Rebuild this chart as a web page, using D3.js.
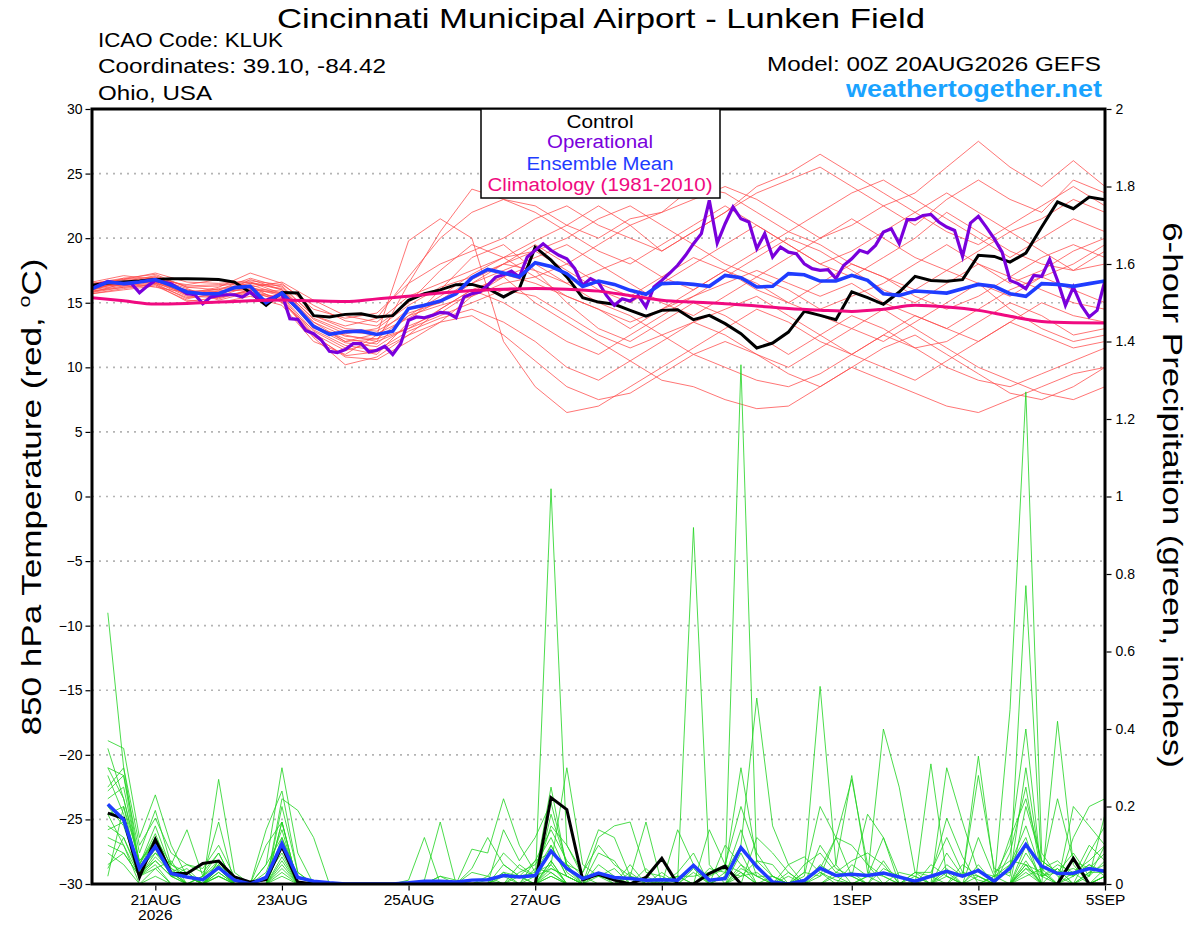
<!DOCTYPE html>
<html><head><meta charset="utf-8">
<script src="https://cdn.jsdelivr.net/npm/d3@7"></script>
<style>
body{margin:0;background:#fff}
svg text{font-family:"Liberation Sans",Arial,Helvetica,sans-serif}
</style>
</head><body>
<svg id="c" width="1200" height="927"></svg>
<script>
// ---------------- DATA ----------------
const titleText = "Cincinnati Municipal Airport - Lunken Field";
const infoLeft = ["ICAO Code: KLUK","Coordinates: 39.10, -84.42","Ohio, USA"];
const modelText = "Model: 00Z 20AUG2026 GEFS";
const siteText = "weathertogether.net";
const legendLabels = ["Control","Operational","Ensemble Mean","Climatology (1981-2010)"];

const tempTicks = [30,25,20,15,10,5,0,-5,-10,-15,-20,-25,-30];
const precipTicks = [0,0.2,0.4,0.6,0.8,1,1.2,1.4,1.6,1.8,2];
const precipTickLabels = ["0","0.2","0.4","0.6","0.8","1","1.2","1.4","1.6","1.8","2"];
const dateTickDays = [1,3,5,7,9,12,14,16];
const dateTickLabels = ["21AUG","23AUG","25AUG","27AUG","29AUG","1SEP","3SEP","5SEP"];

// control 850 hPa temperature, 6-hourly from 00Z 20 Aug
const controlTemp = [16.35,16.53,16.6,16.68,16.8,16.86,16.86,16.83,16.8,16.6,15.8,14.8,15.8,15.75,14.0,13.9,
 14.1,14.15,13.9,14.0,15.19,15.7,16.0,16.4,16.42,16.1,15.45,16.1,19.3,18.3,17.0,15.4,
 15.05,14.88,14.41,13.97,14.41,14.46,13.69,14.02,13.38,12.61,11.5,11.88,12.73,14.33,14.02,13.69,
 15.85,15.39,14.88,15.83,17.04,16.73,16.66,16.79,18.67,18.59,18.15,18.85,20.86,22.8,22.28,23.18,22.98];
// ensemble mean temperature, 6-hourly
const meanTemp = [16.09,16.6,16.48,16.6,16.8,16.35,15.83,15.7,15.7,16.17,16.27,15.0,15.75,14.54,13.17,12.55,
 12.75,12.8,12.55,12.8,14.55,14.8,15.13,15.7,16.94,17.58,17.3,17.0,18.1,17.8,17.25,16.26,
 16.68,16.42,15.96,15.65,16.48,16.53,16.42,16.27,17.12,16.94,16.22,16.27,17.25,17.17,16.68,16.68,
 17.12,16.73,15.7,15.57,15.91,15.83,15.75,16.09,16.42,16.27,15.7,15.5,16.48,16.42,16.27,16.48,16.68];
// operational temperature, 3-hourly
const operTemp = [16.09,16.4,16.66,16.55,16.47,16.47,15.78,16.29,16.73,16.6,16.47,16.09,15.7,15.62,14.93,15.44,
 15.57,15.62,15.62,15.44,15.83,15.31,15.19,15.44,15.7,13.77,13.72,12.86,12.6,12.09,11.24,11.14,
 11.38,11.83,11.83,11.19,11.32,11.63,11.0,11.83,13.64,13.9,13.84,14.02,14.26,14.2,13.84,15.44,
 15.7,15.83,16.35,16.99,17.17,17.45,16.99,18.54,19.06,19.57,19.06,18.67,18.41,17.64,16.35,16.87,
 16.55,15.57,14.8,15.31,15.13,15.57,14.67,16.22,16.73,17.3,17.9,18.67,19.57,20.35,22.93,19.62,
 21.12,22.41,21.5,21.25,19.19,20.35,18.54,19.31,18.92,18.8,18.02,17.64,17.51,17.56,16.87,17.9,
 18.4,19.06,18.85,19.44,20.47,20.73,19.57,21.43,21.43,21.76,21.84,21.25,20.86,20.6,18.59,21.17,
 21.69,20.86,19.96,18.92,16.73,16.48,16.09,17.12,17.04,18.36,16.73,14.8,16.22,14.8,13.9,14.41,16.73];
// climatology, 12-hourly
const climTemp = [15.39,15.15,14.9,14.95,15.05,15.15,15.22,15.15,15.1,15.3,15.5,15.75,15.95,16.05,16.1,16.05,
 15.9,15.55,15.2,15.05,14.93,14.75,14.55,14.42,14.33,14.5,14.8,14.67,14.41,13.95,13.55,13.45,13.43];
// ensemble members temperature, 12-hourly
const memberTemps = [
 [16.2,16.6,16.9,15.9,15.5,16.8,16.0,13.5,12.0,12.2,14.0,15.5,17.2,18.5,19.8,21.0,22.5,21.0,19.0,20.5,22.0,23.5,24.5,25.5,24.0,22.5,21.0,23.0,24.5,23.0,22.0,24.5,23.5],
 [16.0,16.4,16.7,15.6,15.9,16.2,15.5,12.8,11.5,11.0,13.5,16.0,18.5,19.5,17.5,15.0,13.0,12.0,13.5,15.0,14.0,12.5,11.0,12.5,14.0,13.0,11.5,12.0,13.5,15.0,14.0,12.5,13.0],
 [16.5,16.9,17.2,16.2,16.0,16.5,16.3,14.0,13.2,13.8,17.0,20.0,22.0,23.0,22.0,20.5,19.0,18.0,19.5,21.0,22.5,21.0,19.5,18.0,17.0,18.5,20.0,22.0,20.5,19.0,18.0,17.5,19.0],
 [15.8,16.2,16.4,15.4,15.6,15.8,15.2,12.5,10.8,10.6,12.0,13.5,15.5,17.0,18.0,16.5,15.0,14.0,12.5,11.0,10.0,9.0,8.5,9.5,11.0,12.5,11.5,10.0,9.0,8.5,9.5,10.5,11.5],
 [16.3,16.7,16.5,16.0,15.3,16.0,15.8,13.0,12.5,12.0,13.0,14.5,16.0,15.0,13.5,12.0,11.0,12.5,14.0,15.5,17.0,18.5,20.0,19.0,17.5,16.0,15.0,16.5,18.0,17.0,16.0,15.0,14.5],
 [16.1,16.5,17.0,15.7,16.2,17.3,16.5,14.5,13.8,14.2,16.5,20.5,23.8,23.0,22.5,21.0,20.0,21.5,22.0,23.0,24.0,23.0,21.5,20.0,21.0,22.5,23.5,25.5,27.5,25.5,24.0,26.0,24.0],
 [15.9,16.3,16.6,15.5,15.4,16.0,15.3,12.3,10.2,10.8,12.5,13.5,14.0,12.5,10.5,8.5,7.5,8.0,9.5,11.0,12.0,11.0,9.5,8.5,10.0,11.5,12.5,11.0,9.5,8.0,7.5,8.5,10.0],
 [16.4,16.8,17.0,16.3,16.4,16.6,16.0,13.8,12.8,12.5,14.5,15.0,16.5,18.0,19.5,18.0,16.5,15.5,17.0,18.5,17.5,16.0,15.0,16.5,18.0,17.0,15.5,14.5,15.5,17.0,18.5,19.5,18.5],
 [15.7,16.0,16.3,15.2,15.0,15.5,14.8,12.0,11.0,12.5,19.8,21.5,20.0,12.0,8.5,6.5,7.0,8.5,10.0,11.5,13.0,14.5,13.5,12.0,11.0,12.5,14.0,13.0,12.0,13.5,15.0,14.0,13.5],
 [16.6,17.1,16.8,16.4,16.8,16.2,16.6,15.2,14.0,13.5,15.5,16.5,17.5,18.5,19.0,20.0,21.5,22.5,21.0,19.5,18.0,17.0,18.5,20.0,21.5,20.0,18.5,17.5,16.5,15.5,17.0,18.0,19.5],
 [16.0,16.6,16.2,15.8,15.7,16.4,15.6,13.2,12.2,11.8,14.0,14.8,15.5,16.5,17.0,15.5,14.5,13.0,14.5,16.0,17.5,16.5,15.0,14.0,13.0,12.0,13.5,15.0,16.5,14.5,13.0,12.0,12.5],
 [15.8,16.5,16.9,16.1,15.2,15.8,15.4,12.6,11.3,12.0,16.5,18.0,19.0,20.0,21.5,22.5,21.0,20.0,19.0,20.5,22.0,24.0,25.0,26.5,25.0,23.5,22.0,20.5,19.5,21.0,22.5,24.0,22.5],
 [16.3,16.4,16.7,15.9,16.0,16.9,16.2,14.0,13.0,12.8,14.2,15.0,16.5,17.5,18.5,19.5,18.0,16.5,15.0,14.0,15.5,17.0,16.0,14.5,15.5,16.5,18.0,19.5,18.0,16.5,17.5,19.0,20.0],
 [15.9,16.2,16.5,15.3,15.8,16.1,15.9,13.5,12.4,12.2,13.0,14.0,15.0,16.0,15.5,14.0,12.5,11.5,12.5,13.5,14.5,15.5,14.0,12.5,11.0,10.0,9.0,10.5,12.0,13.5,12.5,11.5,12.0],
 [16.5,16.8,17.3,16.6,16.5,16.7,16.4,14.8,13.6,13.2,15.0,17.5,19.5,18.5,17.0,18.0,19.5,21.0,22.0,24.0,23.5,22.0,20.5,22.0,23.5,24.5,23.0,21.5,20.0,18.5,20.0,21.5,20.5],
 [16.2,16.9,16.6,16.0,15.5,16.3,15.0,12.9,11.7,11.3,12.8,13.8,14.5,13.5,12.0,10.0,9.0,10.5,12.0,13.5,12.5,11.0,10.0,11.5,13.0,14.5,13.0,11.5,10.0,9.0,8.0,7.5,8.5],
 [16.4,16.3,16.8,15.6,16.1,16.5,16.1,13.7,12.6,13.0,14.8,16.2,17.0,18.0,17.5,16.5,17.5,18.5,17.0,16.0,17.5,19.0,20.5,19.5,18.0,17.0,16.0,17.5,19.0,20.5,19.0,17.5,18.0],
 [15.7,16.1,16.4,15.1,15.4,15.9,15.1,12.4,10.9,11.2,12.5,14.5,16.0,17.0,15.0,13.5,12.0,10.5,9.0,8.5,7.5,6.8,7.0,8.5,10.0,9.0,8.0,7.0,6.5,7.5,8.5,9.5,10.0],
 [16.1,16.6,17.1,16.2,16.3,16.6,15.7,13.3,12.0,12.6,13.8,15.2,16.8,18.0,19.0,17.5,16.0,15.0,16.5,18.0,19.5,21.0,19.5,18.0,19.0,20.5,22.0,23.5,22.0,20.5,21.5,23.0,22.0],
 [16.0,16.7,16.5,15.8,15.9,16.0,15.7,13.1,11.9,11.6,13.2,14.2,15.8,17.2,16.5,15.5,14.5,13.5,14.5,15.5,16.5,17.5,16.5,15.5,16.5,15.0,14.0,13.0,14.5,16.0,17.0,16.0,15.0]
];
// 6-hour precipitation (inches), 6-hourly from 06Z 20 Aug
const controlPrecip = [.183,.169,.018,.115,.028,.027,.053,.059, .018,.005,.011,.097,.005,0,0,0, 0,0,0,0,0,0,0,0,
 0,0,0,0,.223,.192,.011,.025, .01,0,.017,.066,0,0,.027,.046, 0,0,0,0,0,0,0,0, 0,0,0,0,0,0,0,0, 0,0,0,0,0,.066,0,0];
const meanPrecip = [.206,.166,.04,.097,.027,.018,.011,.042, .01,0,.017,.104,.017,.007,.003,0, 0,0,0,.003,.007,.007,.005,.01,
 .011,.022,.018,.022,.085,.04,.014,.028, .017,.014,.01,.011,.01,.048,.01,.014, .094,.045,.005,0,.009,.041,.022,.025,
 .022,.028,.018,.007,.02,.033,.02,.035, .007,.041,.102,.046,.027,.028,.04,.033];
const memberPrecip = [
 [.70,.30,.05,.12,.03,0,.02,.06, 0,0,.05,.30,.08,0,0,0, 0,0,0,0,0,.02,0,0, 0,.03,.02,0,1.02,.10,.02,0, 0,0,0,.01,.02,0,0,0, 0,0,.02,0,.03,.51,.05,0, 0,0,0,.02,0,0,.03,.01, 0,.05,.12,0,0,.02,.05,.03],
 [.37,.35,.12,.23,.10,.02,0,.27, .03,0,0,.22,.19,.12,0,0, 0,0,0,0,0,0,0,.09, .08,.22,.10,.03,.05,.30,.05,.02, .01,0,.02,0,.01,.92,.05,0, .02,.03,0,.02,0,.03,.01,0, .02,.40,.25,.03,0,.05,.02,.33, .03,.06,.05,0,0,.12,.20,.22],
 [.30,.28,.08,.19,.05,.14,.02,.16, 0,0,.14,.24,.03,0,0,0, 0,0,0,0,.01,.16,0,0, 0,.14,.06,.12,.21,.05,.03,.14, .12,.02,0,0,.14,.05,0,.02, 1.34,.05,0,0,.02,.20,.12,.02, .18,.12,0,0,.31,.02,0,.02, 0,.45,1.27,.08,.02,0,.03,.05],
 [.25,.30,.10,.17,.08,.05,.04,.10, .02,0,.10,.16,0,0,0,0, 0,0,0,.01,.12,0,0,.04, .12,.05,.02,.06,.08,.05,0,.12, .15,.16,.03,.02,0,0,.04,.03, .10,.48,.15,.05,0,.02,.12,.27, .05,0,.03,.02,0,.30,.16,.03, .02,.03,.77,.04,0,.20,.15,.10],
 [.22,.25,.05,.13,.03,0,0,.04, 0,0,0,.16,0,0,0,0, 0,0,0,0,0,0,0,0, 0,0,.03,.05,.12,.03,0,0, 0,.02,.16,0,0,0,.14,.05, .03,0,0,.05,.07,.03,0,0, 0,0,0,.03,.02,.17,.07,0, 0,0,.10,0,.42,.05,0,.02],
 [.20,.15,.03,.10,.02,.03,0,.06, 0,0,0,.12,.02,0,0,0, 0,0,0,0,0,0,0,0, .02,0,.05,.02,.25,.04,0,.08, .06,0,0,.03,0,0,.02,.04, .30,.06,.02,0,.03,.02,.05,.28, .03,.02,0,0,0,.08,.02,.28, .04,.02,.30,.03,0,0,.08,.15],
 [.18,.20,.02,.08,.05,.02,0,.04, 0,0,0,.10,0,0,0,0, 0,0,0,0,0,.02,.01,0, 0,.05,.02,.03,.10,.02,0,.05, .02,0,0,0,.03,.08,0,0, 0,.12,.08,.03,0,.05,.02,0, .02,.12,.02,0,0,.03,0,0, .02,.10,.40,.02,.03,.08,.02,.18],
 [.15,.12,.03,.06,.02,0,0,.02, 0,0,0,.07,0,0,0,0, 0,0,0,0,0,0,0,0, 0,0,0,0,.06,0,0,0, 0,0,0,0,0,0,0,0, .05,.02,0,0,0,0,0,.05, .02,0,0,0,0,.02,0,.05, 0,0,.20,.06,.03,.02,.10,.06],
 [.12,.10,0,.04,0,0,0,0, 0,0,0,.05,0,0,0,0, 0,0,0,0,0,0,0,0, 0,0,0,.02,.04,.02,0,.03, 0,.03,0,0,.02,0,0,0, 0,0,0,0,0,0,.03,.02, 0,.04,.02,0,0,0,.05,.02, 0,0,.08,.02,.04,0,.03,.03],
 [.35,.22,.06,.10,.04,.02,0,.05, 0,0,0,.20,.03,0,0,0, 0,0,0,0,0,0,0,0, 0,0,0,0,.18,.05,0,0, 0,.05,0,0,0,.03,0,.02, .14,.02,.02,0,0,.10,.04,.02, 0,0,0,0,.02,0,0,.12, .02,.05,.15,.03,.22,.06,.04,.08],
 [.10,.08,.02,.06,.02,0,0,.03, 0,0,0,.04,0,0,0,0, 0,0,0,0,0,0,0,0, 0,.02,0,0,.10,.02,0,0, 0,0,0,0,0,0,0,.10, .05,0,0,0,0,0,0,0, 0,0,0,0,0,.04,0,0, 0,0,.05,.03,0,0,0,.02],
 [.05,.08,.02,.05,0,0,0,0, 0,0,0,.03,0,0,0,0, 0,0,0,0,0,0,0,0, 0,0,0,0,.03,0,0,0, 0,0,0,0,0,0,0,0, .03,0,0,0,0,0,0,0, 0,0,0,0,0,0,0,0, 0,0,.03,0,0,0,0,0],
 [.28,.18,.04,.08,.03,0,.02,.08, 0,0,.05,.12,0,0,0,0, 0,0,0,0,0,0,0,.03, .02,.08,.04,.02,.15,.10,.03,.10, .05,.02,.01,0,.02,.02,.03,.05, .20,.08,.02,0,.01,.04,.12,.10, .05,.02,0,.03,.03,.12,.03,.02, 0,.08,.25,.02,.05,.03,.06,.10],
 [.08,.05,0,.02,0,0,0,.02, 0,0,0,.02,0,0,0,0, 0,0,0,0,0,0,0,0, 0,0,0,0,.02,0,0,0, 0,0,0,0,0,0,0,0, 0,0,0,0,0,0,0,0, 0,0,0,0,0,0,0,0, 0,0,0,0,0,0,0,0],
 [.24,.28,.04,.12,.05,.03,0,.06, 0,0,0,.16,0,0,0,0, 0,0,0,0,0,0,0,0, 0,.03,0,.06,.14,.06,.02,.02, 0,0,.04,0,0,.04,0,.03, .02,.06,.05,0,.05,.08,.03,.06, .08,.05,0,0,.05,.02,0,.04, 0,.12,.22,.06,.03,.04,.02,.10],
 [.14,.16,.03,.09,.02,.02,0,.03, 0,0,0,.10,0,0,0,0, 0,0,0,0,0,0,0,0, 0,0,0,0,.02,0,0,0, 0,0,0,0,0,0,0,0, 0,0,0,0,0,0,.02,.03, 0,0,0,0,0,0,0,0, 0,0,.04,.02,0,0,0,.02],
 [.04,.12,.02,.04,.06,0,0,.02, 0,0,0,.06,0,0,0,0, 0,0,0,0,0,0,0,0, 0,0,0,.04,.03,0,0,.02, .04,0,0,0,0,0,0,0, 0,0,0,0,0,0,0,0, 0,0,0,0,0,0,0,0, 0,0,.02,.04,.06,.02,.05,.02],
 [.30,.22,.05,.15,.04,0,.02,.05, 0,0,0,.10,0,0,0,0, 0,0,0,0,0,0,0,0, 0,0,.02,0,.06,0,0,0, 0,0,0,0,0,0,0,0, .08,0,0,0,0,0,0,0, 0,.06,0,0,0,0,0,0, 0,0,.06,0,0,.03,0,.04],
 [.02,.20,.06,.11,.02,.04,0,.04, 0,0,.03,.14,0,0,0,0, 0,0,0,0,0,0,0,0, 0,0,0,0,.04,.02,0,0, 0,0,0,0,0,0,0,0, .04,.02,0,0,0,0,0,0, 0,0,0,0,0,0,0,0, 0,0,.05,0,.04,0,.02,.06],
 [.18,.10,.02,.07,.03,.05,.03,.08, 0,0,.02,.08,0,0,0,0, 0,0,0,0,0,0,0,0, .01,0,0,0,.05,0,0,0, 0,0,0,0,0,0,0,0, 0,0,0,.03,0,0,0,0, 0,0,0,0,0,0,0,0, .02,0,.04,0,0,0,0,.02]
];

// ---------------- CHART ----------------
const svg = d3.select("#c");
const L = 92, R = 1105, T = 109, B = 884;
const t0 = Date.UTC(2026, 7, 20, 0);
const hr = h => new Date(t0 + h * 3600e3);

const x = d3.scaleUtc().domain([hr(0), hr(384)]).range([L, R]);
const yT = d3.scaleLinear().domain([-30, 30]).range([B, T]);
const yP = d3.scaleLinear().domain([0, 2]).range([B, T]);

const COL = {member:"#ff4a4a", green:"#22d422", control:"#000000", oper:"#7a00dc", mean:"#1f3cff", clim:"#f00a80", site:"#1aa3ff"};

svg.append("defs").append("clipPath").attr("id","plotclip")
  .append("rect").attr("x",L).attr("y",T).attr("width",R-L).attr("height",B-T);

// gridlines
svg.append("g").selectAll("line").data(tempTicks.filter(v => v > -30 && v < 30)).join("line")
  .attr("x1", L).attr("x2", R).attr("y1", d => yT(d)).attr("y2", d => yT(d))
  .attr("stroke", "#b4b4b4").attr("stroke-width", 1.6).attr("stroke-dasharray", "2,5");

const plot = svg.append("g").attr("clip-path","url(#plotclip)");

const lineT = step => d3.line().x((d, i) => x(hr(i * step))).y(d => yT(d));
const lineP = d3.line().x((d, i) => x(hr((i + 1) * 6))).y(d => yP(d));

// members temperature
plot.append("g").selectAll("path").data(memberTemps).join("path")
  .attr("d", lineT(12)).attr("fill","none").attr("stroke",COL.member)
  .attr("stroke-width",0.9).attr("stroke-opacity",0.85);
// members precip
plot.append("g").selectAll("path").data(memberPrecip).join("path")
  .attr("d", lineP).attr("fill","none").attr("stroke",COL.green)
  .attr("stroke-width",0.9).attr("stroke-opacity",0.9);

// control precip & mean precip
plot.append("path").datum(controlPrecip).attr("d", lineP).attr("fill","none")
  .attr("stroke",COL.control).attr("stroke-width",3);
plot.append("path").datum(meanPrecip).attr("d", lineP).attr("fill","none")
  .attr("stroke",COL.mean).attr("stroke-width",3.5);

// main temperature lines
plot.append("path").datum(controlTemp).attr("d", lineT(6)).attr("fill","none")
  .attr("stroke",COL.control).attr("stroke-width",3);
plot.append("path").datum(operTemp).attr("d", lineT(3)).attr("fill","none")
  .attr("stroke",COL.oper).attr("stroke-width",3.2);
plot.append("path").datum(meanTemp).attr("d", lineT(6)).attr("fill","none")
  .attr("stroke",COL.mean).attr("stroke-width",3.6);
plot.append("path").datum(climTemp).attr("d", lineT(12).curve(d3.curveMonotoneX)).attr("fill","none")
  .attr("stroke",COL.clim).attr("stroke-width",3);

// frame
svg.append("rect").attr("x",L).attr("y",T).attr("width",R-L).attr("height",B-T)
  .attr("fill","none").attr("stroke","#000").attr("stroke-width",3);

// axes
const FONT = '"Liberation Sans",Arial,sans-serif';
const styleAxis = g => { g.select(".domain").remove(); g.attr("font-family",FONT).attr("font-size",14);
  g.selectAll(".tick line").attr("stroke","#000").attr("stroke-width",1.2); g.selectAll("text").attr("fill","#000"); };

svg.append("g").attr("transform",`translate(${L-1.5},0)`)
  .call(d3.axisLeft(yT).tickValues(tempTicks).tickSize(5).tickPadding(3)).call(styleAxis);
svg.append("g").attr("transform",`translate(${R+1.5},0)`)
  .call(d3.axisRight(yP).tickValues(precipTicks).tickFormat((d,i)=>precipTickLabels[i]).tickSize(5).tickPadding(4)).call(styleAxis);
const xa = svg.append("g").attr("transform",`translate(0,${B+1.5})`)
  .call(d3.axisBottom(x).tickValues(dateTickDays.map(d => hr(d*24))).tickFormat((d,i)=>dateTickLabels[i]).tickSize(5).tickPadding(3))
  .call(styleAxis);
xa.selectAll("text").attr("font-size",15.5);
svg.append("text").attr("x", x(hr(24))).attr("y", 920).attr("text-anchor","middle")
  .attr("font-size",15.5).text("2026");

// helper: stretch a text horizontally to a target length
const fit = (sel, len) => sel.attr("textLength", len).attr("lengthAdjust","spacingAndGlyphs");

// axis titles (scaled along their reading direction)
const lt = svg.append("text").attr("text-anchor","middle").attr("font-size",28).attr("fill","#000");
lt.append("tspan").text("850 hPa Temperature (red, ");
lt.append("tspan").attr("font-size",17).attr("dy",-11).text("o");
lt.append("tspan").attr("dy",11).text("C)");
const ltLen = lt.node().getComputedTextLength();
lt.attr("transform",`translate(41,497) rotate(-90) scale(${477/ltLen},1)`);

const rt = svg.append("text").attr("text-anchor","middle").attr("font-size",28).attr("fill","#000")
  .text("6-hour Precipitation (green, inches)");
const rtLen = rt.node().getComputedTextLength();
rt.attr("transform",`translate(1163,495) rotate(90) scale(${546/rtLen},1)`);

// titles
fit(svg.append("text").attr("x",601).attr("y",28).attr("text-anchor","middle").attr("font-size",28).text(titleText), 648);
const infoLen = [185, 288, 114];
svg.append("g").selectAll("text").data(infoLeft).join("text")
  .attr("x",98).attr("y",(d,i)=>47+i*26.3).attr("font-size",19.5)
  .attr("textLength",(d,i)=>infoLen[i]).attr("lengthAdjust","spacingAndGlyphs").text(d=>d);
fit(svg.append("text").attr("x",1101).attr("y",71).attr("text-anchor","end").attr("font-size",20).text(modelText), 334);
fit(svg.append("text").attr("x",1102).attr("y",97).attr("text-anchor","end").attr("font-size",23)
  .attr("font-weight","bold").attr("fill",COL.site).text(siteText), 256);

// legend
const lg = svg.append("g");
lg.append("rect").attr("x",481).attr("y",T).attr("width",239).attr("height",89)
  .attr("fill","#fff").attr("stroke","#000").attr("stroke-width",1.5);
const legCols = [COL.control, COL.oper, COL.mean, COL.clim];
const legLens = [67, 106, 147, 225];
const legY = [127.5, 148, 170, 191];
lg.selectAll("text").data(legendLabels).join("text")
  .attr("x",600).attr("y",(d,i)=>legY[i]).attr("text-anchor","middle").attr("font-size",18)
  .attr("textLength",(d,i)=>legLens[i]).attr("lengthAdjust","spacingAndGlyphs")
  .attr("fill",(d,i)=>legCols[i]).text(d=>d);
</script>
</body></html>
